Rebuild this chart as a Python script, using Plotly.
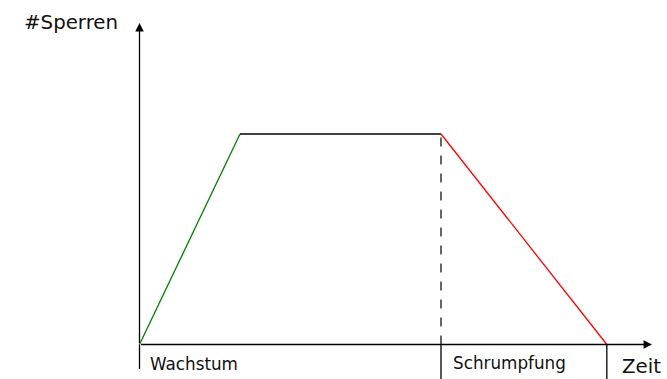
import plotly.graph_objects as go

# ---- data ----
phase_times = [0, 1, 3, 4.65]          # time points (growth start, plateau start, shrink start, end)
lock_counts = [0, 1, 1, 0]             # number of locks at these points
segment_colors = ["#008000", "#000000", "#ff0000"]
phase_labels = ["Wachstum", "Schrumpfung"]
axis_labels = {"x": "Zeit", "y": "#Sperren"}

# ---- layout helpers (pixel mapping) ----
W, H = 667, 379
x0_px, xs = 139.5, 100.5
y0_px, ys = 344.5, 210.5
xr = [-x0_px / xs, (W - x0_px) / xs]
yr = [-(H - y0_px) / ys, y0_px / ys]
x_tip = (652 - x0_px) / xs
y_tip = (y0_px - 23) / ys

fig = go.Figure()

# curve segments
for i in range(len(phase_times) - 1):
    fig.add_trace(go.Scatter(
        x=phase_times[i:i + 2], y=lock_counts[i:i + 2], mode="lines",
        line=dict(color=segment_colors[i], width=1.3), showlegend=False,
        hoverinfo="skip"))

shapes = []
# dashed vertical line at start of shrinking
shapes.append(dict(type="line", xref="x", yref="y",
                   x0=phase_times[2], x1=phase_times[2], y0=0, y1=lock_counts[2],
                   line=dict(color="black", width=1.2, dash="dash")))
# phase divider ticks below the axis
shapes.append(dict(type="line", xref="x", yref="y", x0=phase_times[0], x1=phase_times[0],
                   y0=0, y1=-(369 - y0_px) / ys, line=dict(color="black", width=1.3)))
for t in phase_times[2:]:
    shapes.append(dict(type="line", xref="x", yref="y", x0=t, x1=t,
                       y0=0, y1=yr[0], line=dict(color="black", width=1.3)))

font = "DejaVu Sans"
annotations = [
    # axes with arrows
    dict(x=x_tip, y=0, ax=0, ay=0, xref="x", yref="y", axref="x", ayref="y",
         showarrow=True, arrowhead=2, arrowsize=1.3, arrowwidth=1.3, arrowcolor="black", text=""),
    dict(x=0, y=y_tip, ax=0, ay=0, xref="x", yref="y", axref="x", ayref="y",
         showarrow=True, arrowhead=2, arrowsize=1.3, arrowwidth=1.3, arrowcolor="black", text=""),
    # texts
    dict(x=(148 - x0_px) / xs, y=(y0_px - 364) / ys, xref="x", yref="y", text=phase_labels[0],
         showarrow=False, xanchor="left", yanchor="middle", font=dict(family=font, size=16.8, color="#111")),
    dict(x=(451 - x0_px) / xs, y=(y0_px - 363) / ys, xref="x", yref="y", text=phase_labels[1],
         showarrow=False, xanchor="left", yanchor="middle", font=dict(family=font, size=16.8, color="#111")),
    dict(x=(619.5 - x0_px) / xs, y=(y0_px - 366) / ys, xref="x", yref="y", text=axis_labels["x"],
         showarrow=False, xanchor="left", yanchor="middle", font=dict(family=font, size=19.8, color="#111")),
    dict(x=(22 - x0_px) / xs, y=(y0_px - 22) / ys, xref="x", yref="y", text=axis_labels["y"],
         showarrow=False, xanchor="left", yanchor="middle", font=dict(family=font, size=19.8, color="#111")),
]

fig.update_layout(
    width=W, height=H, margin=dict(l=0, r=0, t=0, b=0),
    paper_bgcolor="white", plot_bgcolor="white",
    shapes=shapes, annotations=annotations,
    xaxis=dict(range=xr, visible=False, fixedrange=True),
    yaxis=dict(range=yr, visible=False, fixedrange=True),
)

fig.write_html("out.html", config={"displayModeBar": False, "staticPlot": True},
               post_script="document.body.style.margin='0';document.body.style.overflow='hidden';")
